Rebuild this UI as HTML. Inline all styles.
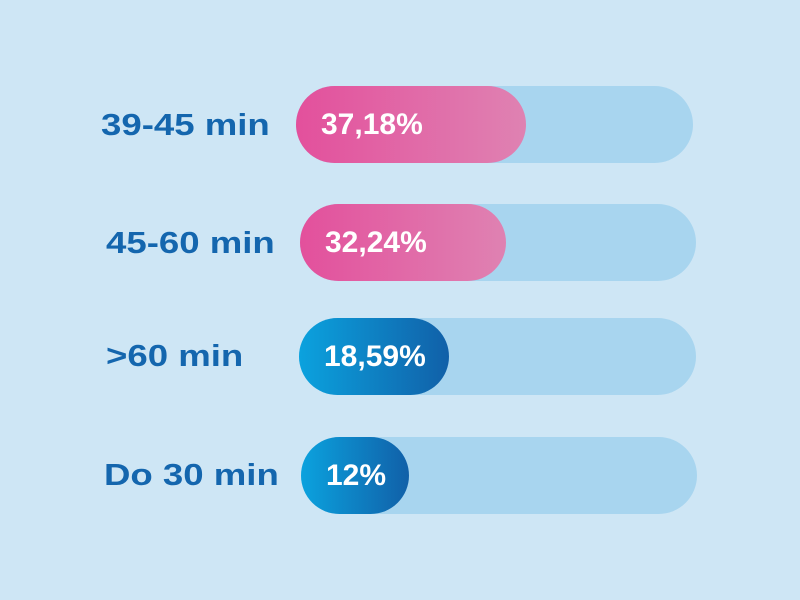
<!DOCTYPE html><html><head><style>
body{margin:0;width:800px;height:600px;background:#cee6f5;position:relative;overflow:hidden;font-family:"Liberation Sans",sans-serif;font-weight:bold}
.l{position:absolute;color:#1466ae;font-size:31px;line-height:30px;white-space:nowrap;transform:scaleX(1.18);transform-origin:left center}
.t{position:absolute;height:77px;border-radius:39px;background:#a8d5ef}
.f{position:absolute;left:0;top:0;height:77px;border-radius:39px;color:#fff;font-size:30px;line-height:77px;box-sizing:border-box;padding-left:25px;white-space:nowrap}
.p{background:linear-gradient(90deg,#e3509c,#df82b2)}
.b{background:linear-gradient(90deg,#0ba2de,#1160a8)}
</style></head><body>
<div class="l" style="left:101px;top:110px">39-45 min</div>
<div class="l" style="left:106px;top:228px">45-60 min</div>
<div class="l" style="left:106px;top:341px">&gt;60 min</div>
<div class="l" style="left:104px;top:460px">Do 30 min</div>
<div class="t" style="left:296px;top:86px;width:397px"><div class="f p" style="width:230px">37,18%</div></div>
<div class="t" style="left:300px;top:204px;width:396px"><div class="f p" style="width:206px">32,24%</div></div>
<div class="t" style="left:299px;top:318px;width:397px"><div class="f b" style="width:150px">18,59%</div></div>
<div class="t" style="left:301px;top:437px;width:396px"><div class="f b" style="width:108px">12%</div></div>
</body></html>
